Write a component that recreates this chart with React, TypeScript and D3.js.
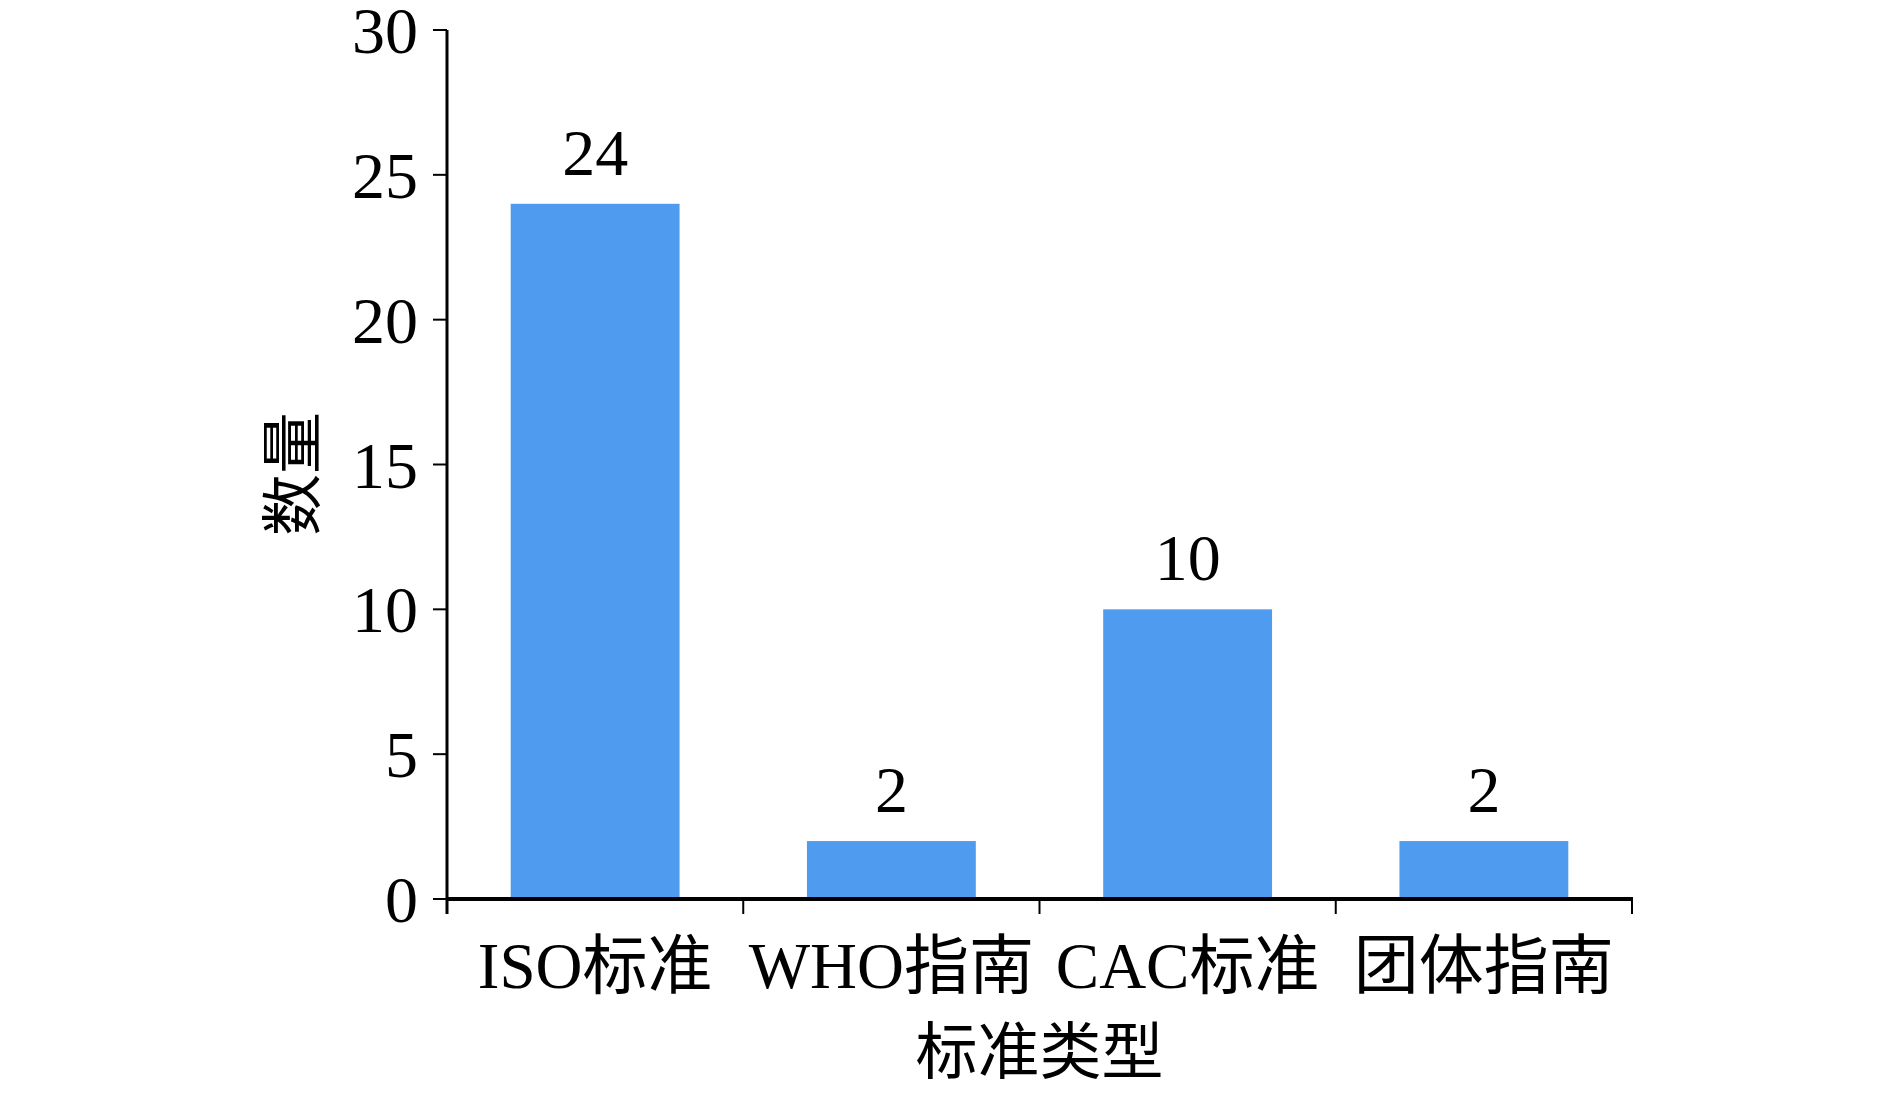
import React from "react";
import * as d3 from "d3";

const categories = ["ISO标准", "WHO指南", "CAC标准", "团体指南"];
const counts = [24, 2, 10, 2];
const yTicks = [0, 5, 10, 15, 20, 25, 30];
const xTitle = "标准类型";
const yTitle = "数量";

const W = 1890;
const H = 1096;
const left = 447;
const right = 1632;
const top = 30;
const bottom = 899;
const FONT = "'Liberation Serif', 'Times New Roman', 'Noto Sans CJK SC', serif";
const BAR = "#4f9bef";

export default function App() {
  const x = d3.scaleBand<string>().domain(categories).range([left, right]).paddingInner(0.43).paddingOuter(0.215);
  const y = d3.scaleLinear().domain([0, 30]).range([bottom, top]);
  const step = x.step();
  const boundaries = d3.range(categories.length + 1).map((i) => left + i * step);

  return (
    <div style={{ position: "absolute", left: 0, top: 0 }}>
      <svg width={W} height={H} style={{ display: "block", background: "#fff" }} fontFamily={FONT}>
        {categories.map((c, i) => (
          <rect key={c} x={x(c)} y={y(counts[i])} width={x.bandwidth()} height={bottom - y(counts[i])} fill={BAR} />
        ))}
        {/* y axis */}
        <line x1={left} x2={left} y1={top} y2={bottom + 15} stroke="#000" strokeWidth={3} />
        {yTicks.map((t) => (
          <g key={t}>
            <line x1={left - 14} x2={left} y1={y(t)} y2={y(t)} stroke="#000" strokeWidth={2} />
            <text x={418} y={y(t)} dy="0.35em" textAnchor="end" fontSize={66} fill="#000">
              {t}
            </text>
          </g>
        ))}
        {/* x axis */}
        <line x1={left} x2={right + 1} y1={bottom} y2={bottom} stroke="#000" strokeWidth={4} />
        {boundaries.slice(1).map((b, i) => (
          <line key={i} x1={b} x2={b} y1={bottom} y2={bottom + 15} stroke="#000" strokeWidth={2} />
        ))}
        {categories.map((c) => (
          <text key={c} x={(x(c) as number) + x.bandwidth() / 2} y={988} textAnchor="middle" fontSize={65} fill="#000">
            {c}
          </text>
        ))}
        {categories.map((c, i) => (
          <text key={c + "v"} x={(x(c) as number) + x.bandwidth() / 2} y={y(counts[i]) - 29} textAnchor="middle" fontSize={66} fill="#000">
            {counts[i]}
          </text>
        ))}
        <text x={(left + right) / 2} y={1074} textAnchor="middle" fontSize={62} fill="#000">
          {xTitle}
        </text>
        <text transform={`translate(315,474) rotate(-90)`} textAnchor="middle" fontSize={62} fill="#000">
          {yTitle}
        </text>
      </svg>
    </div>
  );
}
